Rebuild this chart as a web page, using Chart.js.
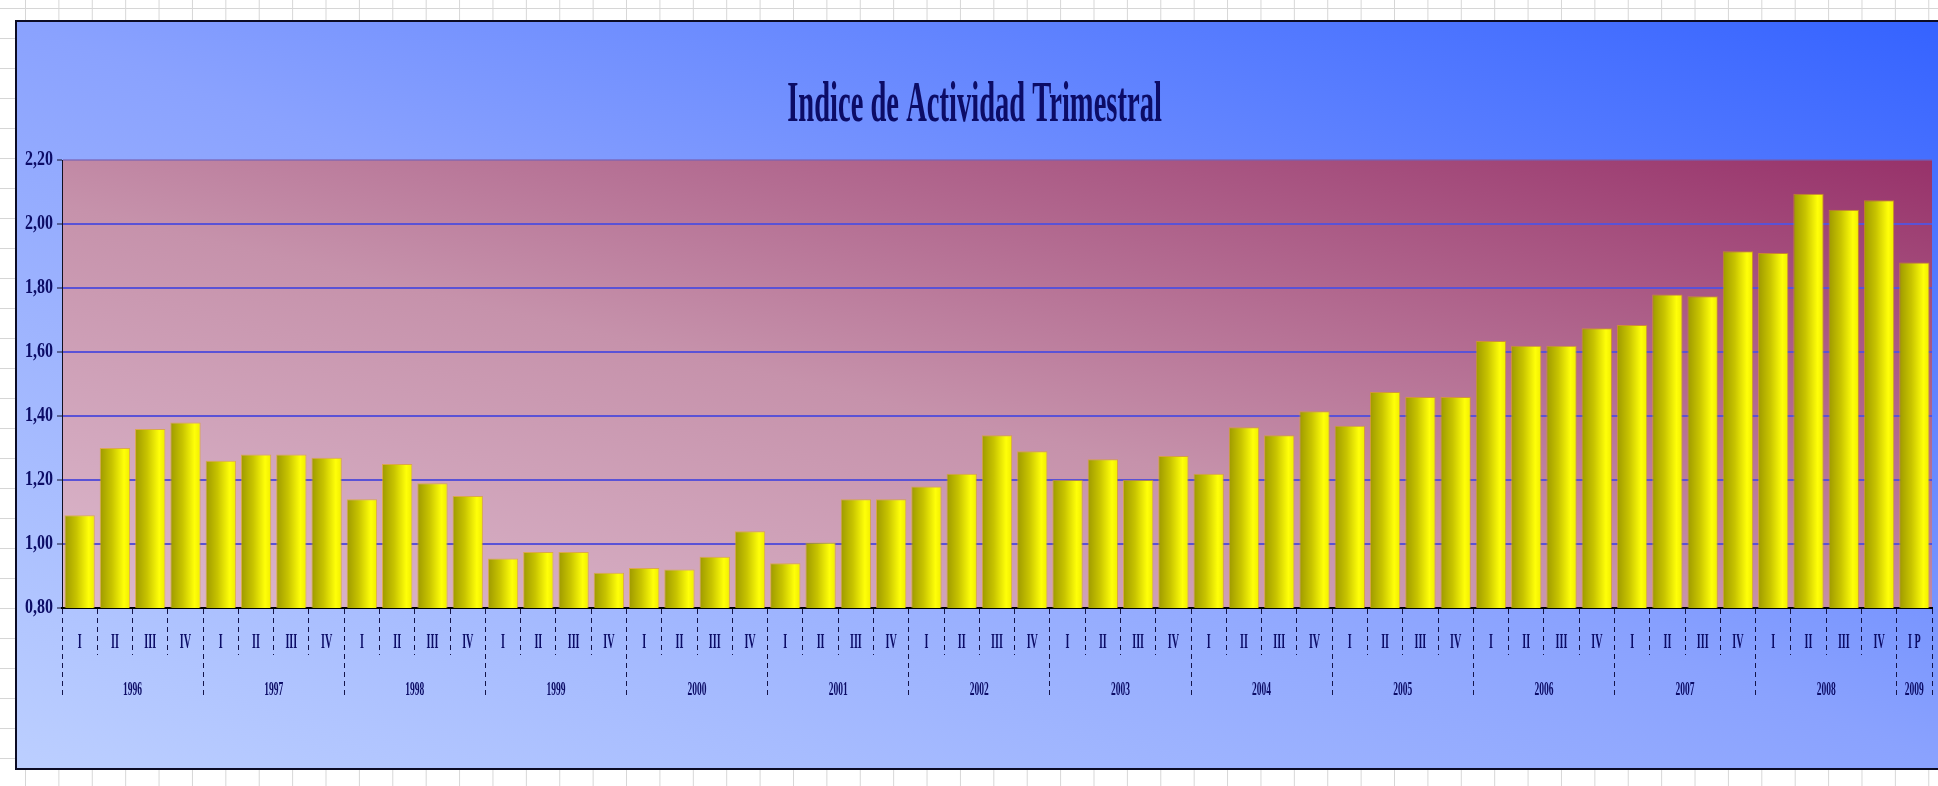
<!DOCTYPE html>
<html>
<head>
<meta charset="utf-8">
<title>Indice de Actividad Trimestral</title>
<script src="https://cdn.jsdelivr.net/npm/chart.js@4.4.1/dist/chart.umd.min.js"></script>
<style>
  html, body { margin: 0; padding: 0; }
  body {
    width: 1938px; height: 786px; overflow: hidden; position: relative;
    background-color: #fff;
    background-image: linear-gradient(to right, #d6d6d6 1px, transparent 1px),
                      linear-gradient(to bottom, #d6d6d6 1px, transparent 1px);
    background-size: 33.4px 30px;
    background-position: 25px 8px;
  }
  #frame {
    position: absolute; left: 15px; top: 20px; width: 1960px; height: 750px;
    box-sizing: border-box; border: 2px solid #0c0c24; border-right: none; overflow: hidden;
  }
  #wrap { position: absolute; left: 0; top: 0; width: 1940px; height: 746px; }
</style>
</head>
<body>
<div id="frame"><div id="wrap"><canvas id="chart"></canvas></div></div>
<script>
// data
const years = ['1996','1997','1998','1999','2000','2001','2002','2003','2004','2005','2006','2007','2008','2009'];
const quartersPerYear = [4,4,4,4,4,4,4,4,4,4,4,4,4,1];
const quarterNames = ['I','II','III','IV'];
const provisionalLabel = 'I P';
const indice = [
  1.09, 1.30, 1.36, 1.38,
  1.26, 1.28, 1.28, 1.27,
  1.14, 1.25, 1.19, 1.15,
  0.955, 0.975, 0.975, 0.91,
  0.925, 0.92, 0.96, 1.04,
  0.94, 1.005, 1.14, 1.14,
  1.18, 1.22, 1.34, 1.29,
  1.20, 1.265, 1.20, 1.275,
  1.22, 1.365, 1.34, 1.415,
  1.37, 1.475, 1.46, 1.46,
  1.635, 1.62, 1.62, 1.675,
  1.685, 1.78, 1.775, 1.915,
  1.91, 2.095, 2.045, 2.075,
  1.88
];

// quarter labels under each bar
const quarterLabels = [];
years.forEach((y, i) => {
  if (quartersPerYear[i] === 4) quarterNames.forEach(q => quarterLabels.push(q));
  else quarterLabels.push(provisionalLabel);
});

// year axis ticks: boundaries (no label) and centres (year label)
const yearTicks = [];
const yearAtCentre = {};
let start = 0;
years.forEach((y, i) => {
  yearTicks.push({ value: start - 0.5 });
  const centre = start + (quartersPerYear[i] - 1) / 2;
  yearTicks.push({ value: centre });
  yearAtCentre[centre] = y;
  start += quartersPerYear[i];
});
yearTicks.push({ value: start - 0.5 });

// the original uses a very narrow serif, squeeze text horizontally by font size
const SQUEEZE = { 56: 0.51, 22: 0.46, 20: 0.8, 19: 0.5 };
const origFillText = CanvasRenderingContext2D.prototype.fillText;
CanvasRenderingContext2D.prototype.fillText = function(text, x, y, maxW) {
  const m = /(\d+(?:\.\d+)?)px/.exec(this.font);
  const s = m ? (SQUEEZE[Math.round(+m[1])] || 1) : 1;
  if (s === 1) return origFillText.apply(this, arguments);
  this.save();
  this.translate(x, y);
  this.scale(s, 1);
  if (maxW !== undefined) origFillText.call(this, text, 0, 0, maxW / s);
  else origFillText.call(this, text, 0, 0);
  this.restore();
};

const navy = '#0c0c66';
const serif = "'Liberation Serif', 'Times New Roman', serif";

const backgrounds = {
  id: 'backgrounds',
  beforeDraw(chart) {
    const { ctx, width, height, chartArea: a } = chart;
    ctx.save();
    // outer blue
    ctx.save();
    ctx.translate(0, height);
    ctx.scale(width, -height);
    let g = ctx.createLinearGradient(0, 0, 1, 1);
    g.addColorStop(0, '#bccfff');
    g.addColorStop(0.5, '#8aa2fe');
    g.addColorStop(1, '#3462ff');
    ctx.fillStyle = g;
    ctx.fillRect(0, 0, 1, 1);
    ctx.restore();
    // plot area pink
    ctx.save();
    ctx.translate(a.left, a.bottom);
    ctx.scale(a.right - a.left, a.top - a.bottom);
    g = ctx.createLinearGradient(0, 0, 1, 1);
    g.addColorStop(0, '#dcb8cc');
    g.addColorStop(0.45, '#c692ab');
    g.addColorStop(1, '#97326a');
    ctx.fillStyle = g;
    ctx.fillRect(0, 0, 1, 1);
    ctx.restore();
    ctx.restore();
  }
};

function barFill(c) {
  const x = c.chart.scales.x;
  if (!x || c.dataIndex === undefined || !c.chart.chartArea) return '#e0dc00';
  const cx = x.getPixelForValue(c.dataIndex);
  const w = x.width / quarterLabels.length * 0.86;
  const g = c.chart.ctx.createLinearGradient(cx - w / 2, 0, cx + w / 2, 0);
  g.addColorStop(0, '#9e9900');
  g.addColorStop(0.4, '#c8c400');
  g.addColorStop(0.8, '#ffff08');
  g.addColorStop(1, '#f0ec00');
  return g;
}

new Chart(document.getElementById('chart'), {
  type: 'bar',
  data: {
    labels: quarterLabels,
    datasets: [{
      label: 'Indice',
      data: indice,
      backgroundColor: barFill,
      borderColor: 'rgba(225,170,0,0.6)',
      borderWidth: 1,
      borderSkipped: 'bottom',
      barPercentage: 0.86,
      categoryPercentage: 1
    }]
  },
  options: {
    responsive: true,
    maintainAspectRatio: false,
    animation: false,
    layout: { padding: { left: 0, right: 25, top: 0, bottom: 68 } },
    plugins: {
      legend: { display: false },
      tooltip: { enabled: false },
      title: {
        display: true,
        text: 'Indice de Actividad Trimestral',
        color: navy,
        font: { family: serif, size: 56, weight: 'bold', lineHeight: 1.2 },
        padding: { top: 51, bottom: 20 }
      }
    },
    scales: {
      y: {
        min: 0.8,
        max: 2.2,
        afterFit(s) { s.width = 45; },
        ticks: {
          stepSize: 0.2,
          padding: 4,
          color: navy,
          font: { family: serif, size: 20, weight: 'bold' },
          callback: v => v.toFixed(2).replace('.', ',')
        },
        grid: {
          lineWidth: 2,
          color: c => {
            const v = c.tick ? c.tick.value : 0;
            if (Math.abs(v - 0.8) < 1e-6) return 'rgba(0,0,0,0)';
            if (Math.abs(v - 2.2) < 1e-6) return 'rgba(120,90,170,0.55)';
            return '#5a52d6';
          },
          tickColor: '#101030',
          tickWidth: 1,
          tickLength: 5
        },
        border: { display: true, color: '#101020', width: 1 }
      },
      x: {
        z: 1,
        weight: 0,
        afterFit(s) { s.height = 46; },
        ticks: {
          autoSkip: false,
          maxRotation: 0,
          minRotation: 0,
          padding: -24,
          color: navy,
          font: { family: serif, size: 22, weight: 'bold', lineHeight: 1.05 }
        },
        grid: {
          drawOnChartArea: false,
          tickLength: 47,
          tickColor: '#14144a',
          tickWidth: 1,
          tickBorderDash: [5, 4]
        },
        border: { display: true, color: '#000000', width: 2, dash: [2, 2] }
      },
      x2: {
        type: 'linear',
        position: 'bottom',
        weight: 1,
        offset: false,
        min: -0.5,
        max: quarterLabels.length - 0.5,
        afterFit(s) { s.height = 46; },
        afterBuildTicks(s) { s.ticks = yearTicks.map(t => ({ value: t.value })); },
        ticks: {
          autoSkip: false,
          maxRotation: 0,
          minRotation: 0,
          padding: -18,
          color: navy,
          font: { family: serif, size: 19, weight: 'bold', lineHeight: 1.05 },
          callback: v => yearAtCentre[v] || ''
        },
        grid: {
          offset: false,
          drawOnChartArea: false,
          tickLength: 44,
          tickWidth: 1,
          tickBorderDash: [5, 4],
          tickColor: c => (c.tick && yearAtCentre[c.tick.value] === undefined) ? '#14144a' : 'rgba(0,0,0,0)'
        },
        border: { display: false }
      }
    }
  },
  plugins: [backgrounds]
});
</script>
</body>
</html>
